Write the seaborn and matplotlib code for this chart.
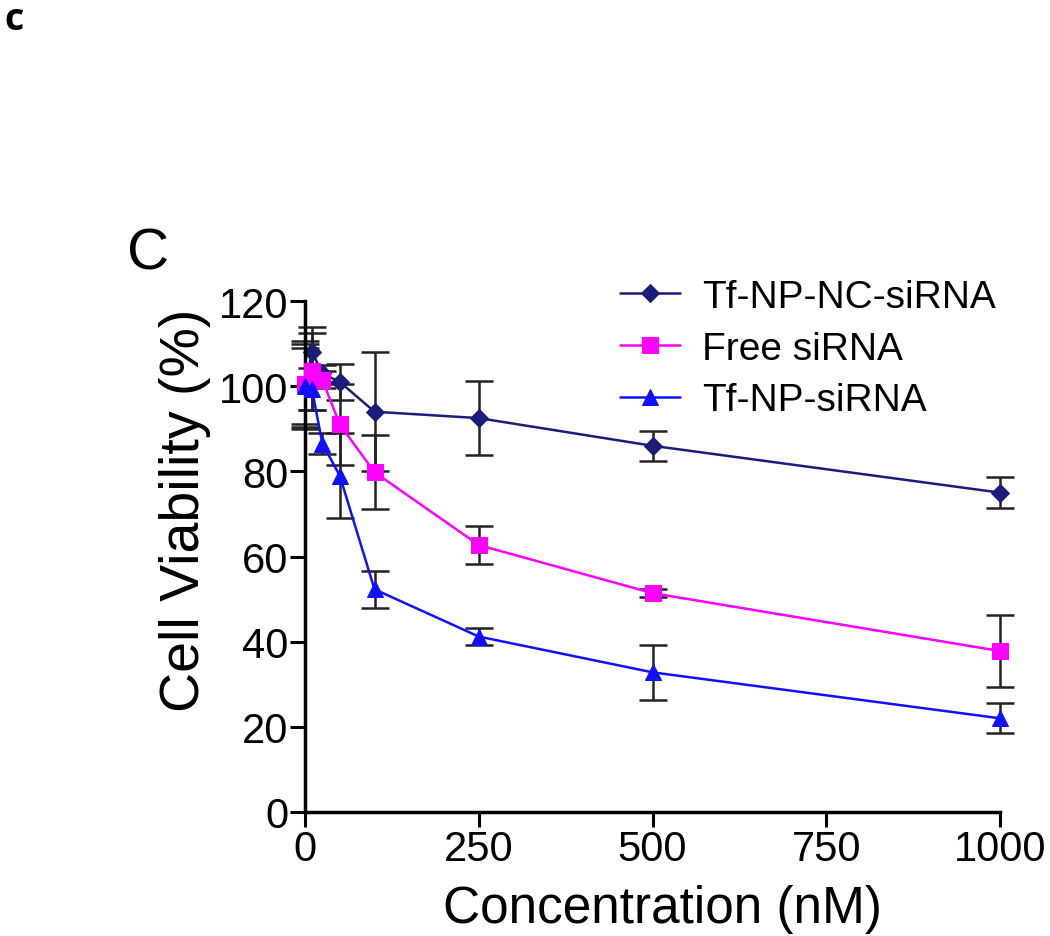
import numpy as np
import pandas as pd
import seaborn as sns
import matplotlib.pyplot as plt

sns.set_style('ticks')
plt.rcParams['font.family'] = ['Liberation Sans', 'DejaVu Sans']
plt.rcParams['text.color'] = 'black'

# concentrations (nM)
conc = [0, 10, 25, 50, 100, 250, 500, 1000]

# mean viability (%)
nc_mean = [100, 108, 103, 101, 94, 92.5, 86, 75]
free_mean = [100.5, 103.5, 101.5, 91, 79.8, 62.7, 51.4, 37.8]
tf_mean = [100, 99.3, 86.5, 79, 52.3, 41.2, 32.8, 22]

# SD error bars
nc_sd = [10, 6, 2, 4.3, 14, 8.7, 3.5, 3.7]
free_sd = [10, 9, 2, 9.5, 8.7, 4.4, 1, 8.5]
tf_sd = [9, 5, 2.5, 10, 4.3, 2, 6.5, 3.5]

labels = ['Tf-NP-NC-siRNA', 'Free siRNA', 'Tf-NP-siRNA']
colors = ['#1c1c7a', '#ff00ff', '#1010ff']
markers = ['D', 's', '^']
msizes = [9, 11, 12]

df = pd.concat([
    pd.DataFrame({'conc': conc, 'viab': m, 'sd': s, 'group': g})
    for m, s, g in zip([nc_mean, free_mean, tf_mean],
                       [nc_sd, free_sd, tf_sd], labels)
])

fig = plt.figure(figsize=(10.5, 9.37), dpi=100)
ax = fig.add_axes([305 / 1050, 1 - 813 / 937, 695 / 1050, 511 / 937])

for i, g in enumerate(labels):
    sub = df[df['group'] == g]
    ax.errorbar(sub['conc'], sub['viab'], yerr=sub['sd'], fmt='none',
                ecolor='#222222', elinewidth=1.8, capsize=10, capthick=1.8,
                zorder=1, clip_on=False)
    sns.lineplot(ax=ax, x='conc', y='viab', data=sub, color=colors[i],
                 marker=markers[i], markersize=msizes[i], markeredgecolor=colors[i],
                 linewidth=1.8, label=g, zorder=2 + i, clip_on=False)

ax.set_xlim(0, 1000)
ax.set_ylim(0, 120)
ax.set_xticks([0, 250, 500, 750, 1000])
ax.set_yticks(np.arange(0, 121, 20))
sns.despine(ax=ax)
for sp in ['left', 'bottom']:
    ax.spines[sp].set_linewidth(2.5)
    ax.spines[sp].set_color('black')
ax.tick_params(axis='both', direction='out', length=11, width=2.2,
               labelsize=30, pad=1, colors='black')

ax.set_xlabel('Concentration (nM)', fontsize=37, color='black')
ax.set_ylabel('Cell Viability (%)', fontsize=40, color='black')
ax.xaxis.set_label_coords((662 - 305) / 695, (813 - 885) / 511)
ax.yaxis.set_label_coords((211 - 305) / 695, (813 - 510) / 511)

leg = ax.legend(loc='upper left', bbox_to_anchor=((620 - 305) / 695, (813 - 280) / 511),
                borderaxespad=0, borderpad=0, frameon=False,
                fontsize=28, handlelength=1.55, labelspacing=0.4, handletextpad=0.55)
for t in leg.get_texts():
    t.set_color('black')

fig.text(127 / 1050, 1 - 254 / 937, 'C', fontsize=42, va='center', ha='left')
fig.text(4 / 1050, 1 - 20 / 937, 'c', fontsize=27, fontweight='bold',
         family=['Open Sans', 'DejaVu Sans'], va='center', ha='left')

fig.savefig('out.png', dpi=100)
